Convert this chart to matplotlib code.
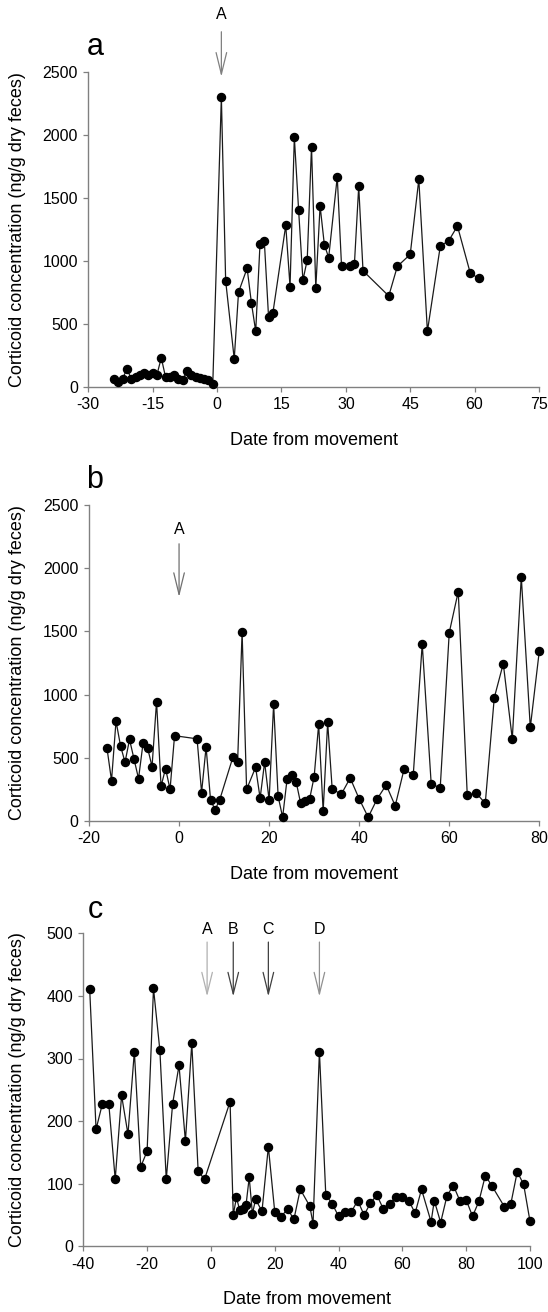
import matplotlib
matplotlib.use("Agg")
import matplotlib.pyplot as plt

plt.rcParams['font.family'] = ['Liberation Sans', 'DejaVu Sans']
plt.rcParams['axes.unicode_minus'] = False

# panel a : days from movement and corticoid values
a_days = [-24, -23, -22, -21, -20, -19, -18, -17, -16, -15, -14, -13, -12,
          -11, -10, -9, -8, -7, -6, -5, -4, -3, -2, -1,
          1, 2, 4, 5, 7, 8, 9, 10, 11, 12, 13, 16, 17, 18, 19, 20, 21, 22,
          23, 24, 25, 26, 28, 29, 31, 32, 33, 34,
          40, 42, 45, 47, 49, 52, 54, 56, 59, 61]
a_vals = [60, 40, 65, 140, 65, 75, 95, 110, 90, 110, 95, 230, 75,
          75, 90, 60, 55, 125, 90, 80, 70, 60, 55, 20,
          2300, 840, 220, 750, 940, 665, 440, 1130, 1160, 550, 585, 1280, 795,
          1980, 1400, 845, 1005, 1905, 785, 1435, 1125, 1025, 1665, 955,
          955, 975, 1590, 920,
          720, 955, 1050, 1645, 440, 1115, 1160, 1275, 900, 860]

# panel b
b_days = [-16, -15, -14, -13, -12, -11, -10, -9, -8, -7, -6, -5, -4, -3, -2, -1,
          4, 5, 6, 7, 8, 9, 12, 13, 14, 15, 17, 18, 19, 20, 21, 22, 23, 24,
          25, 26, 27, 28, 29, 30, 31, 32, 33, 34, 36, 38, 40, 42, 44, 46, 48,
          50, 52, 54, 56, 58, 60, 62, 64, 66, 68, 70, 72, 74, 76, 78, 80]
b_vals = [575, 320, 790, 595, 465, 645, 490, 335, 615, 580, 430, 945, 275, 415,
          250, 675,
          650, 225, 585, 165, 90, 165, 510, 465, 1495, 250, 425, 180, 465, 165,
          925, 195, 30, 335, 360, 310, 140, 160, 175, 350, 765, 80, 780, 255,
          210, 340, 175, 30, 175, 285, 120, 415, 360, 1400, 290, 265, 1490,
          1815, 205, 220, 140, 975, 1245, 650, 1930, 740, 1345]

# panel c
c_days = [-38, -36, -34, -32, -30, -28, -26, -24, -22, -20, -18, -16, -14, -12,
          -10, -8, -6, -4, -2,
          6, 7, 8, 9, 10, 11, 12, 13, 14, 16, 18, 20, 22, 24, 26, 28, 31, 32,
          34, 36, 38, 40, 42, 44, 46, 48, 50, 52, 54, 56, 58, 60, 62, 64, 66,
          69, 70, 72, 74, 76, 78, 80, 82, 84, 86, 88, 92, 94, 96, 98, 100]
c_vals = [411, 187, 228, 227, 107, 241, 179, 311, 127, 152, 412, 313, 107, 228,
          289, 168, 324, 120, 107,
          231, 50, 78, 58, 60, 66, 110, 52, 75, 56, 159, 55, 47, 60, 43, 91,
          64, 36, 311, 82, 68, 48, 54, 55, 73, 50, 69, 82, 60, 68, 79, 78, 73,
          53, 91, 39, 73, 38, 81, 97, 73, 74, 48, 72, 113, 97, 63, 68, 119,
          99, 40]

# event arrows: (label, day, label y, arrow top, arrow tip, colour)
a_events = [("A", 1, 2950, 2817, 2460, "#808080")]
b_events = [("A", 0, 2304, 2193, 1772, "#707070")]
c_events = [("A", -1.2, 506, 486, 399, "#b0b0b0"),
            ("B", 7, 506, 486, 399, "#404040"),
            ("C", 18, 506, 486, 399, "#404040"),
            ("D", 34, 506, 486, 399, "#909090")]

W, H = 548, 1312
fig = plt.figure(figsize=(W / 100, H / 100), dpi=100)


def make_axes(left, right, top, bottom):
    return fig.add_axes([left / W, 1 - bottom / H, (right - left) / W,
                         (bottom - top) / H])


panels = [
    (make_axes(88.3, 539, 71.7, 386.7), a_days, a_vals, (-30, 75),
     range(-30, 76, 15), (0, 2500), range(0, 2501, 500), a_events, "a", 47),
    (make_axes(89, 539.3, 505, 821), b_days, b_vals, (-20, 80),
     range(-20, 81, 20), (0, 2500), range(0, 2501, 500), b_events, "b", 480),
    (make_axes(83.3, 530, 933.3, 1246.3), c_days, c_vals, (-40, 100),
     range(-40, 101, 20), (0, 500), range(0, 501, 100), c_events, "c", 910),
]

for ax, days, vals, xlim, xticks, ylim, yticks, events, tag, tag_y in panels:
    ax.plot(days, vals, color="#1a1a1a", lw=0.9, marker="o", ms=5.8,
            mfc="black", mec="black", clip_on=False, zorder=3)
    ax.set_xlim(*xlim)
    ax.set_ylim(*ylim)
    ax.set_xticks(list(xticks))
    ax.set_yticks(list(yticks))
    for s in ["top", "right"]:
        ax.spines[s].set_visible(False)
    for s in ["left", "bottom"]:
        ax.spines[s].set_color("#808080")
        ax.spines[s].set_linewidth(1.0)
    ax.tick_params(direction="out", length=3.5, width=0.9, color="#808080",
                   labelsize=11.5, pad=4)
    ax.set_xlabel("Date from movement", fontsize=13)
    ax.set_ylabel("Corticoid concentration (ng/g dry feces)", fontsize=13)
    pos = ax.get_position()
    ax.xaxis.set_label_coords(0.5, -45 / (pos.height * H))
    ax.yaxis.set_label_coords((26 - pos.x0 * W) / (pos.width * W), 0.5)

    for lab, x, ly, top, tip, col in events:
        ax.annotate("", xy=(x, tip), xytext=(x, top),
                    arrowprops=dict(arrowstyle="->,head_length=1.55,head_width=0.38",
                                    color=col, lw=0.9, shrinkA=0, shrinkB=0),
                    annotation_clip=False)
        ax.text(x, ly, lab, ha="center", va="center", fontsize=11.5,
                clip_on=False)

    fig.text(95 / W, 1 - tag_y / H, tag, ha="center", va="center", fontsize=22)

fig.savefig("out.png", dpi=100)
